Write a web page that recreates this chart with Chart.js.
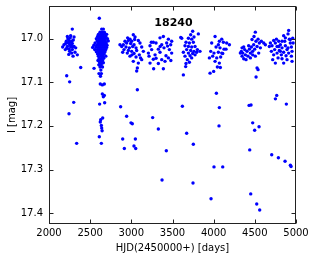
<!DOCTYPE html>
<html>
<head>
<meta charset="utf-8">
<script src="https://cdn.jsdelivr.net/npm/chart.js@4"></script>
<style>
  html, body { margin: 0; padding: 0; background: #fff; }
</style>
</head>
<body>
<canvas id="lc" width="316" height="259"></canvas>
<script>
// I-band light curve, one array of [HJD-2450000, I mag] per observing season
const season1 = [
  [2166,17.019],[2283,16.978],[2223,16.995],[2263,16.993],[2304,16.996],[2210,17.006],[2243,17.004],
  [2275,17.006],[2182,17.014],[2202,17.011],[2235,17.010],[2251,17.014],[2283,17.011],[2223,17.018],
  [2263,17.019],[2304,17.018],[2243,17.024],[2283,17.025],[2324,17.021],[2251,17.029],[2275,17.033],
  [2316,17.031],[2344,17.037],[2292,17.040],[2385,17.066],[2230,17.000],[2258,16.998],[2215,17.022],
  [2270,17.015],[2295,17.003],[2240,17.036],[2198,17.025],[2288,17.019],[2256,17.008],
  [2215,17.085],[2251,17.099],[2300,17.146],[2243,17.172],[2336,17.240]
];
const season2 = [
  [2611,16.953],[2640,16.978],[2660,16.978],[2620,16.985],[2645,16.985],[2672,16.985],
  [2600,16.990],[2630,16.990],[2655,16.990],[2680,16.990],[2700,16.990],
  [2590,16.995],[2615,16.995],[2640,16.995],[2665,16.995],[2690,16.995],
  [2575,17.000],[2605,17.000],[2625,17.000],[2650,17.000],[2675,17.000],[2710,17.000],
  [2585,17.005],[2610,17.005],[2635,17.005],[2660,17.005],[2685,17.005],[2720,17.005],
  [2560,17.010],[2595,17.010],[2620,17.010],[2645,17.010],[2670,17.010],[2695,17.010],
  [2545,17.015],[2580,17.015],[2605,17.015],[2630,17.015],[2655,17.015],[2680,17.015],[2705,17.015],
  [2530,17.020],[2570,17.020],[2600,17.020],[2625,17.020],[2650,17.020],[2675,17.020],[2700,17.020],
  [2555,17.025],[2590,17.025],[2615,17.025],[2640,17.025],[2665,17.025],[2690,17.025],
  [2575,17.030],[2605,17.030],[2630,17.030],[2655,17.030],[2680,17.030],
  [2590,17.035],[2620,17.035],[2645,17.035],[2670,17.035],
  [2600,17.040],[2630,17.040],[2655,17.040],[2690,17.040],
  [2610,17.045],[2640,17.045],[2665,17.045],[2595,17.050],[2625,17.050],[2650,17.050],
  [2615,17.055],[2640,17.055],[2660,17.055],[2605,17.060],[2635,17.060],
  [2620,17.065],[2650,17.065],[2547,17.068],[2630,17.072],[2607,17.080],[2636,17.080],[2625,17.086],
  [2623,17.104],[2648,17.106],[2672,17.104],[2648,17.127],[2672,17.130],[2660,17.133],
  [2615,17.150],[2676,17.147],[2652,17.182],[2628,17.186],[2623,17.191],[2636,17.199],
  [2640,17.205],[2645,17.211],[2611,17.225],[2636,17.240]
];
const season3 = [
  [3024,16.991],[2984,17.001],[3045,16.996],[2923,17.006],[2964,17.004],[3004,17.006],[3085,17.004],
  [2903,17.014],[2943,17.010],[2992,17.011],[3033,17.014],[3105,17.010],[2883,17.018],[2935,17.019],
  [2976,17.021],[3016,17.018],[3057,17.021],[3126,17.019],[2911,17.025],[2964,17.027],[3004,17.029],
  [3065,17.027],[3146,17.029],[2862,17.014],[2951,17.033],[3033,17.034],[3097,17.037],[2984,17.040],
  [3057,17.042],[3126,17.048],[3024,17.052],[3085,17.056],[3073,17.067],[3065,17.074],
  [2895,17.031],[3008,17.037],[3040,17.002],[2955,16.998],[3112,17.044],
  [3073,17.117],[2870,17.156],[2943,17.178],[2996,17.193],[3012,17.195],[2895,17.230],
  [3049,17.230],[3032,17.246],[3053,17.252],[2915,17.252]
];
const season4 = [
  [3267,17.008],[3348,16.998],[3389,16.995],[3450,17.001],[3227,17.016],[3300,17.010],[3369,17.014],
  [3429,17.010],[3490,17.006],[3247,17.025],[3328,17.024],[3397,17.021],[3462,17.025],[3207,17.033],
  [3288,17.037],[3348,17.031],[3421,17.039],[3490,17.033],[3267,17.047],[3369,17.048],[3450,17.044],
  [3227,17.056],[3328,17.057],[3409,17.052],[3271,17.069],[3389,17.069],[3215,17.040],
  [3350,17.018],[3440,17.017],[3300,17.045],[3480,17.050],[3243,17.008],[3478,17.014],
  [3259,17.181],[3328,17.207],[3425,17.257],[3373,17.324]
];
const season5 = [
  [3600,16.997],[3612,16.999],[3745,16.983],[3721,16.991],[3814,16.989],[3693,16.999],[3733,17.001],
  [3761,16.996],[3664,17.008],[3705,17.010],[3753,17.008],[3652,17.016],[3693,17.018],[3733,17.019],
  [3774,17.018],[3672,17.025],[3721,17.027],[3761,17.029],[3802,17.025],[3632,17.031],[3693,17.033],
  [3745,17.034],[3794,17.031],[3834,17.029],[3652,17.040],[3713,17.039],[3774,17.037],[3680,17.048],
  [3733,17.044],[3664,17.057],[3705,17.054],[3660,17.064],[3632,17.083],
  [3620,17.155],[3672,17.217],[3753,17.242],[3749,17.331]
];
const season6 = [
  [4017,16.995],[4069,17.006],[4118,17.008],[4158,17.010],[4191,17.014],[3976,17.010],[4029,17.019],
  [4077,17.021],[4126,17.024],[3964,17.029],[4004,17.033],[4057,17.031],[4110,17.034],[3988,17.040],
  [4037,17.044],[4085,17.042],[4017,17.052],[4069,17.056],[4045,17.065],[4098,17.033],[3948,17.044],
  [4098,17.001],[4057,17.014],[4150,17.024],[4081,17.066],[3956,17.079],[4000,17.075],
  [4033,17.125],[4069,17.158],[4065,17.200],[4004,17.294],[4110,17.294],[3968,17.367]
];
const season7 = [
  [4336,17.029],[4353,17.033],[4345,17.040],[4377,17.025],[4385,17.037],[4405,17.029],[4417,17.040],
  [4434,17.024],[4446,17.033],[4458,17.019],[4474,17.029],[4486,17.014],[4498,17.024],[4506,16.985],
  [4514,17.006],[4527,17.018],[4539,17.001],[4555,17.010],[4579,17.006],[4608,17.010],[4628,17.014],
  [4466,17.002],[4490,16.995],[4365,17.046],[4393,17.048],[4446,17.044],[4506,17.040],[4547,17.033],
  [4345,17.021],[4425,17.016],[4567,17.021],[4324,17.033],[4365,17.019],[4474,17.037],
  [4527,17.067],[4539,17.071],[4515,17.088],
  [4430,17.153],[4454,17.152],[4474,17.193],[4551,17.202],[4498,17.210],[4438,17.255],
  [4450,17.356],[4523,17.379],[4559,17.393]
];
const season8 = [
  [4689,17.010],[4709,17.016],[4729,17.004],[4749,17.010],[4770,17.018],[4741,17.025],[4790,17.006],
  [4810,17.014],[4830,17.021],[4850,16.993],[4863,17.006],[4871,17.016],[4891,17.025],[4903,16.989],
  [4911,16.981],[4919,17.001],[4931,17.010],[4944,17.019],[4952,17.029],[4701,17.029],[4729,17.037],
  [4770,17.033],[4798,17.027],[4822,17.037],[4850,17.031],[4879,17.039],[4911,17.033],[4944,17.040],
  [4717,17.048],[4782,17.044],[4830,17.046],[4891,17.048],[4952,17.052],[4749,17.056],[4850,17.056],
  [4790,17.018],[4871,16.998],[4676,17.018],[4965,17.010],[4830,17.006],[4762,17.001],[4931,17.002],
  [4810,17.029],[4903,17.021],[4960,16.999],
  [4766,17.130],[4750,17.138],[4883,17.150],[4705,17.266],[4786,17.273],[4867,17.281],
  [4932,17.290],[4940,17.293]
];

const xTicks = [2000, 2500, 3000, 3500, 4000, 4500, 5000];
const yTicks = [17.0, 17.1, 17.2, 17.3, 17.4];
const starName = "18240";

const points = [season1, season2, season3, season4, season5, season6, season7, season8]
  .flat()
  .map(p => ({ x: p[0], y: p[1] }));

const font = { family: "'DejaVu Sans', sans-serif", size: 10 };

// box around the plot with inward ticks on all four sides, plus the star id
const framePlugin = {
  id: "frame",
  afterDraw(chart) {
    const { ctx, chartArea: a, scales } = chart;
    const l = Math.round(a.left) + 0.5, r = Math.round(a.right) - 0.5;
    const t = Math.round(a.top) + 0.5, b = Math.round(a.bottom) - 0.5;
    ctx.save();
    ctx.strokeStyle = "#222";
    ctx.lineWidth = 1;
    ctx.strokeRect(l, t, r - l, b - t);
    ctx.beginPath();
    xTicks.forEach(v => {
      const px = Math.round(scales.x.getPixelForValue(v)) + 0.5;
      ctx.moveTo(px, b); ctx.lineTo(px, b - 4);
      ctx.moveTo(px, t); ctx.lineTo(px, t + 4);
    });
    yTicks.forEach(v => {
      const py = Math.round(scales.y.getPixelForValue(v)) + 0.5;
      ctx.moveTo(l, py); ctx.lineTo(l + 4, py);
      ctx.moveTo(r, py); ctx.lineTo(r - 4, py);
    });
    ctx.stroke();

    ctx.fillStyle = "#000";
    ctx.font = "bold 11px 'DejaVu Sans', sans-serif";
    ctx.textAlign = "center";
    ctx.textBaseline = "alphabetic";
    ctx.fillText(starName, (a.left + a.right) / 2 + 1, a.top + 20);
    ctx.restore();
  }
};

new Chart(document.getElementById("lc"), {
  type: "scatter",
  data: {
    datasets: [{
      data: points,
      pointRadius: 1.7,
      pointBorderWidth: 0,
      pointBackgroundColor: "#0000ff",
      pointHoverRadius: 1.7
    }]
  },
  options: {
    responsive: false,
    animation: false,
    devicePixelRatio: 1,
    events: [],
    layout: { padding: { top: 6, right: 20, left: 0, bottom: 0 } },
    plugins: { legend: { display: false }, tooltip: { enabled: false } },
    scales: {
      x: {
        type: "linear",
        min: 2000,
        max: 5000,
        afterBuildTicks: s => { s.ticks = xTicks.map(v => ({ value: v })); },
        afterFit: s => { s.height = 35; s.paddingLeft = 0; s.paddingRight = 0; },
        grid: { display: false, drawTicks: false },
        border: { display: false },
        ticks: { font, color: "#000", padding: 3, maxRotation: 0, callback: v => String(v) },
        title: {
          display: true,
          text: "HJD(2450000+) [days]",
          font,
          color: "#000",
          padding: { top: 0, bottom: 5 }
        }
      },
      y: {
        type: "linear",
        reverse: true,
        min: 16.925,
        max: 17.425,
        afterBuildTicks: s => { s.ticks = yTicks.map(v => ({ value: v })); },
        afterFit: s => { s.width = 49; s.paddingTop = 0; s.paddingBottom = 0; },
        grid: { display: false, drawTicks: false },
        border: { display: false },
        ticks: { font, color: "#000", padding: 6, callback: v => v.toFixed(1) },
        title: {
          display: true,
          text: "I [mag]",
          font,
          color: "#000",
          padding: { top: 6, bottom: 0 }
        }
      }
    }
  },
  plugins: [framePlugin]
});
</script>
</body>
</html>
